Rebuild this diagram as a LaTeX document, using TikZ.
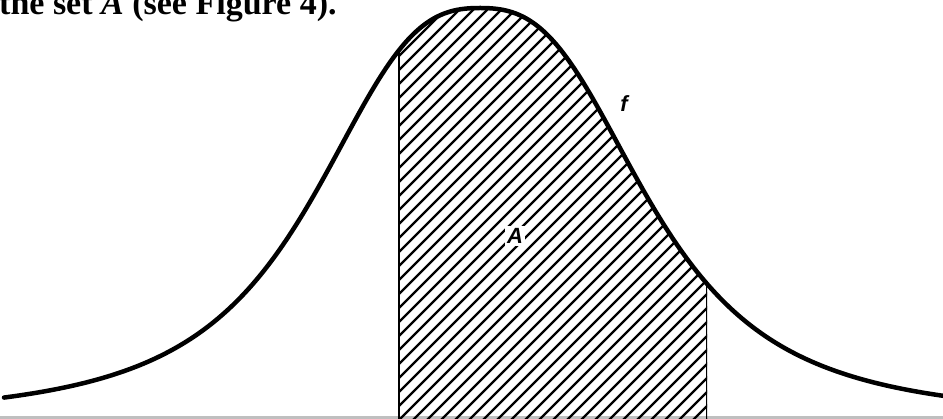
\documentclass[tikz,border=0pt]{standalone}
\usepackage{fontspec}
\setmainfont{Liberation Serif}
\newfontfamily\labelfont{Liberation Sans}
\begin{document}
\begin{tikzpicture}[x=1pt,y=-1pt,
  declare function={bellu(\t)=abs(\t-480)/100; bell(\t)=420-412/(1+0.0526*bellu(\t)^2+0.15*bellu(\t)^3);},
  curveline/.style={line width=4.5pt,line cap=round,line join=round},
  boundline/.style={line width=3pt},
  hatchline/.style={line width=2.4pt},
  axisline/.style={line width=2.5pt,black!25},
  lbl/.style={font=\labelfont\bfseries\itshape\fontsize{22}{22}\selectfont,inner sep=0pt},
  captiontext/.style={font=\bfseries\fontsize{34}{34}\selectfont,inner sep=0pt,anchor=base west}]
\useasboundingbox (0,0) rectangle (943,419);
\clip (0,0) rectangle (943,419);
% faint axis
\draw[axisline] (0,417.5) -- (943,417.5);
% hatched region and bounds, clipped under the curve
\begin{scope}
  \clip plot[domain=3:945,samples=240,smooth] (\x,{bell(\x)}) -- (945,430) -- (3,430) -- cycle;
  \clip (398,-10) rectangle (707,430);
  \foreach \x in {-40,-26,...,720} {\draw[hatchline] (\x,425) -- ++(440,-440);}
  \draw[boundline] (398,0) -- (398,430);
  \draw[boundline] (707,0) -- (707,430);
\end{scope}
% curve f
\draw[curveline] plot[domain=4:945,samples=240,smooth] (\x,{bell(\x)});
% labels
\node[lbl] (f) at (624,104) {f};
\node[lbl,fill=white,inner sep=2pt] (A) at (515,236) {A};
\node[captiontext] (caption) at (-1,15) {the set \textit{A} (see Figure 4).};
\end{tikzpicture}
\end{document}
